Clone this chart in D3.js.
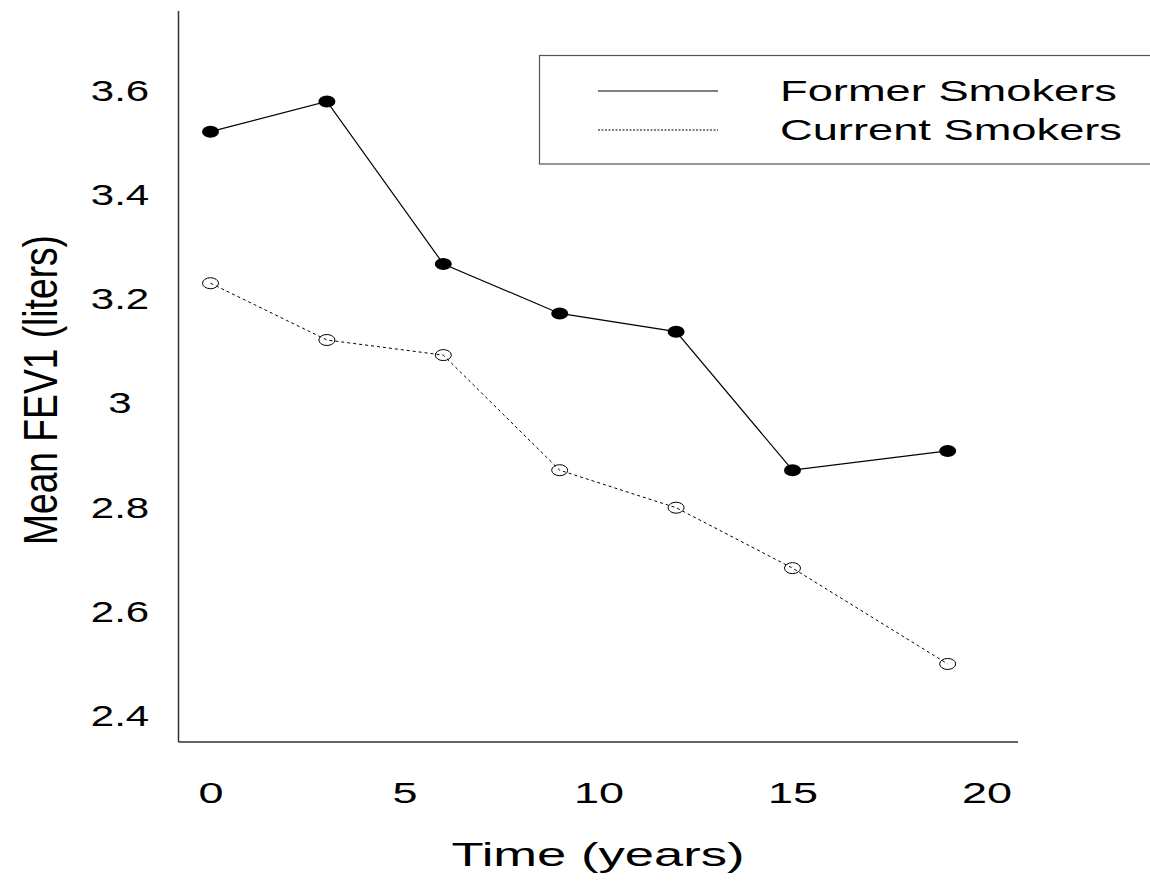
<!DOCTYPE html>
<html>
<head>
<meta charset="utf-8">
<script src="https://cdn.jsdelivr.net/npm/d3@7"></script>
<style>
  body { margin: 0; background: #fff; }
  text { font-family: "Liberation Sans", Arial, sans-serif; fill: #000; }
</style>
</head>
<body>
<svg class="chart"></svg>
<script>
// ----- Data -----
let years = [0, 3, 6, 9, 12, 15, 19]
let formerSmokers = [3.520, 3.578, 3.266, 3.171, 3.136, 2.870, 2.907]
let currentSmokers = [3.229, 3.120, 3.091, 2.870, 2.798, 2.682, 2.498]
let seriesNames = ['Former Smokers', 'Current Smokers']
let xTicks = [0, 5, 10, 15, 20]
let yTicks = [2.4, 2.6, 2.8, 3.0, 3.2, 3.4, 3.6]

let svgWidth = 1150
let svgHeight = 885
let svg = d3.select('.chart')
            .attr('width', svgWidth)
            .attr('height', svgHeight)

// Scales (plot frame runs x 178.5..1018, y 11..742)
let x = d3.scaleLinear().domain([0, 20]).range([210.5, 986.5])
let y = d3.scaleLinear().domain([2.4, 3.6]).range([715, 90])

let axisColor = '#333'

// Frame: left + bottom lines only
svg.append('line')
   .attr('x1', 178.5).attr('x2', 178.5)
   .attr('y1', 11).attr('y2', 742)
   .attr('stroke', axisColor).attr('stroke-width', 1.5)
svg.append('line')
   .attr('x1', 178.5).attr('x2', 1018)
   .attr('y1', 742).attr('y2', 742)
   .attr('stroke', axisColor).attr('stroke-width', 1.5)

// Axes (labels only, no tick marks)
let yAxis = svg.append('g')
               .attr('transform', 'translate(120,0)')
               .call(d3.axisLeft(y).tickValues(yTicks).tickSize(0).tickFormat(d3.format('~g')))
yAxis.select('.domain').remove()
yAxis.selectAll('text')
     .attr('x', 0)
     .attr('dy', '0.36em')
     .attr('text-anchor', 'middle')
     .attr('font-size', 29)
     .attr('font-family', null)
     .attr('transform', 'scale(1.45,1)')

let xAxis = svg.append('g')
               .attr('transform', 'translate(0,792)')
               .call(d3.axisBottom(x).tickValues(xTicks).tickSize(0))
xAxis.select('.domain').remove()
xAxis.selectAll('text')
     .attr('y', 0)
     .attr('dy', '0.36em')
     .attr('text-anchor', 'middle')
     .attr('font-size', 30)
     .attr('font-family', null)
     .attr('transform', 'scale(1.5,1)')

// Axis titles
svg.append('text')
   .attr('x', 598).attr('y', 866)
   .attr('text-anchor', 'middle')
   .attr('font-size', 33)
   .attr('textLength', 293)
   .attr('lengthAdjust', 'spacingAndGlyphs')
   .text('Time (years)')

svg.append('text')
   .attr('transform', 'translate(57,390) rotate(-90)')
   .attr('text-anchor', 'middle')
   .attr('font-size', 48)
   .attr('textLength', 310)
   .attr('lengthAdjust', 'spacingAndGlyphs')
   .text('Mean FEV1 (liters)')

// Lines
let line = d3.line()
             .x(function (d, i) { return x(years[i]) })
             .y(function (d) { return y(d) })

svg.append('path')
   .attr('d', line(currentSmokers))
   .attr('fill', 'none')
   .attr('stroke', '#000')
   .attr('stroke-width', 1)
   .attr('stroke-dasharray', '3,3')

svg.append('path')
   .attr('d', line(formerSmokers))
   .attr('fill', 'none')
   .attr('stroke', '#000')
   .attr('stroke-width', 1.2)

// Points
svg.selectAll('.former')
   .data(formerSmokers)
   .enter()
   .append('ellipse')
   .attr('class', 'former')
   .attr('cx', function (d, i) { return x(years[i]) })
   .attr('cy', function (d) { return y(d) })
   .attr('rx', 8.5).attr('ry', 6)
   .attr('fill', '#000')

svg.selectAll('.current')
   .data(currentSmokers)
   .enter()
   .append('ellipse')
   .attr('class', 'current')
   .attr('cx', function (d, i) { return x(years[i]) })
   .attr('cy', function (d) { return y(d) })
   .attr('rx', 8).attr('ry', 5.5)
   .attr('fill', 'none')
   .attr('stroke', '#000')
   .attr('stroke-width', 1)

// Legend
svg.append('rect')
   .attr('x', 539.5).attr('y', 55.5)
   .attr('width', 640).attr('height', 108.5)
   .attr('fill', 'none')
   .attr('stroke', '#555')
   .attr('stroke-width', 1.2)

let legendY = [91, 130]
let legendWidths = [337, 342]
seriesNames.forEach(function (name, i) {
    svg.append('line')
       .attr('x1', 598).attr('x2', 718)
       .attr('y1', legendY[i]).attr('y2', legendY[i])
       .attr('stroke', '#000')
       .attr('stroke-width', i === 0 ? 1.2 : 1)
       .attr('stroke-dasharray', i === 0 ? null : '2,1.5')
    svg.append('text')
       .attr('x', 780).attr('y', legendY[i] + 10)
       .attr('font-size', 30)
       .attr('textLength', legendWidths[i])
       .attr('lengthAdjust', 'spacingAndGlyphs')
       .text(name)
})
</script>
</body>
</html>
